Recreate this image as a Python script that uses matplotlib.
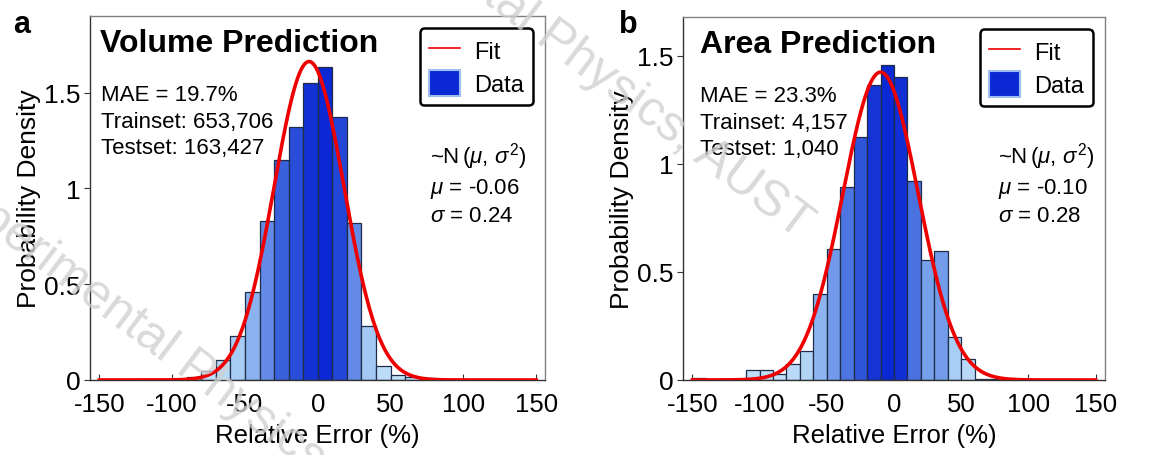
import numpy as np
import matplotlib
matplotlib.use('Agg')
from matplotlib import pyplot as plt
from matplotlib.colors import LinearSegmentedColormap
from matplotlib.lines import Line2D
from matplotlib.patches import Patch

plt.rcParams['font.family'] = ['Liberation Sans', 'DejaVu Sans']
plt.rcParams['mathtext.fontset'] = 'custom'
plt.rcParams['mathtext.rm'] = 'Liberation Sans'
plt.rcParams['mathtext.it'] = 'Liberation Sans:italic'

# histogram data (bin left edges in %, density)
vol_edges = [-100, -90, -80, -70, -60, -50, -40, -30, -20, -10, 0, 10, 20, 30, 40, 50, 60, 70]
vol_dens = [0.004, 0.017, 0.045, 0.106, 0.23, 0.46, 0.83, 1.15, 1.32, 1.55, 1.635, 1.375,
            0.82, 0.28, 0.072, 0.028, 0.017, 0.012]

area_edges = [-150, -140, -130, -120, -110, -100, -90, -80, -70, -60, -50, -40, -30, -20,
              -10, 0, 10, 20, 30, 40, 50, 60, 70]
area_dens = [0.008, 0.0, 0.003, 0.006, 0.046, 0.046, 0.027, 0.076, 0.134, 0.40, 0.604, 0.893,
             1.123, 1.365, 1.46, 1.403, 0.922, 0.556, 0.595, 0.199, 0.095, 0.005, 0.003]

# fit parameters (fraction units)
vol_mu, vol_sigma = -0.06, 0.24
area_mu, area_sigma = -0.10, 0.28

titles = ['Volume Prediction', 'Area Prediction']
stats = ['MAE = 19.7%\nTrainset: 653,706\nTestset: 163,427',
         'MAE = 23.3%\nTrainset: 4,157\nTestset: 1,040']
letters = ['a', 'b']

cmap = LinearSegmentedColormap.from_list('blues', [
    (0.0, '#c4e2fa'), (0.15, '#a6ccf4'), (0.35, '#7ca5ec'),
    (0.55, '#5a82e4'), (0.75, '#3158da'), (1.0, '#0a28d4')])


def normal_pdf(x, mu, sigma):
    return np.exp(-0.5 * ((x - mu) / sigma) ** 2) / (sigma * np.sqrt(2 * np.pi))


fig = plt.figure(figsize=(11.63, 4.56), dpi=100)

panels = [
    ([90 / 1163, 75 / 456, 455 / 1163, 364 / 456], vol_edges, vol_dens, vol_mu, vol_sigma, (-156.4, 156), 1.9),
    ([683 / 1163, 75 / 456, 422 / 1163, 363 / 456], area_edges, area_dens, area_mu, area_sigma, (-157, 157), 1.68),
]

for i, (rect, edges, dens, mu, sigma, xlim, ytop) in enumerate(panels):
    ax = fig.add_axes(rect)
    dens = np.array(dens)
    cols = cmap(dens / dens.max())
    ax.bar(edges, dens, width=10, align='edge', color=cols, edgecolor='#1f2c48',
           linewidth=0.9, zorder=2)
    xs = np.linspace(-150, 150, 601)
    ax.plot(xs, normal_pdf(xs / 100, mu, sigma), color='#ee0000', lw=2.6, zorder=3)

    ax.set_xlim(*xlim)
    ax.set_ylim(0, ytop)
    ax.set_xticks([-150, -100, -50, 0, 50, 100, 150])
    ax.set_xticklabels(['-150', '-100', '-50', '0', '50', '100', '150'])
    ax.set_yticks([0, 0.5, 1, 1.5])
    ax.set_yticklabels(['0', '0.5', '1', '1.5'])
    ax.tick_params(axis='x', direction='in', length=4, labelsize=18.5, pad=9, color='#333333')
    ax.tick_params(axis='y', direction='out', length=4, labelsize=19, pad=3, color='#333333')
    for s in ['top', 'right']:
        ax.spines[s].set_color('#808080')
        ax.spines[s].set_linewidth(1.0)
    for s in ['left', 'bottom']:
        ax.spines[s].set_color('#333333')
        ax.spines[s].set_linewidth(1.0)

    ax.set_xlabel('Relative Error (%)', fontsize=18.5, labelpad=5)
    ax.set_ylabel('Probability Density', fontsize=19, labelpad=2)

    ax.text(0.023 if i == 0 else 0.04, 0.968, titles[i], transform=ax.transAxes,
            fontsize=23, fontweight='bold', va='top', ha='left')
    ax.text(0.024 if i == 0 else 0.04, 0.812, stats[i], transform=ax.transAxes,
            fontsize=16, va='top', ha='left', linespacing=1.33)
    fit_txt = '~N$\\,(\\mu,\\,\\sigma^2)$\n$\\mu$ = %.2f\n$\\sigma$ = %.2f' % (mu, sigma)
    ax.text(0.747, 0.66, fit_txt, transform=ax.transAxes,
            fontsize=16, va='top', ha='left', linespacing=1.3)

    handles = [Line2D([], [], color='#ee0000', lw=1.2),
               Patch(facecolor='#0a28d4', edgecolor='#9dbcef', linewidth=1.5)]
    leg = ax.legend(handles, ['Fit', 'Data'], loc='upper right', fontsize=17,
                    frameon=True, fancybox=True, framealpha=1, edgecolor='black',
                    borderpad=0.4, handlelength=1.3, handleheight=1.3,
                    handletextpad=0.6, labelspacing=0.3, borderaxespad=0.5)
    leg.get_frame().set_linewidth(1.8)

    fig.text(rect[0] - (77 / 1163 if i == 0 else 64 / 1163), 1 - 10 / 456, letters[i],
             fontsize=22, fontweight='bold', va='top', ha='left')

# watermark
for (wx, wy) in [(552, 38), (192, 368)]:
    fig.text(wx / 1163, 1 - wy / 456, 'Experimental Physics, AUST', fontsize=36,
             color='#d0d0d0', alpha=0.8, rotation=-37, rotation_mode='anchor',
             ha='center', va='center', zorder=10)

fig.savefig('out.png', dpi=100)
